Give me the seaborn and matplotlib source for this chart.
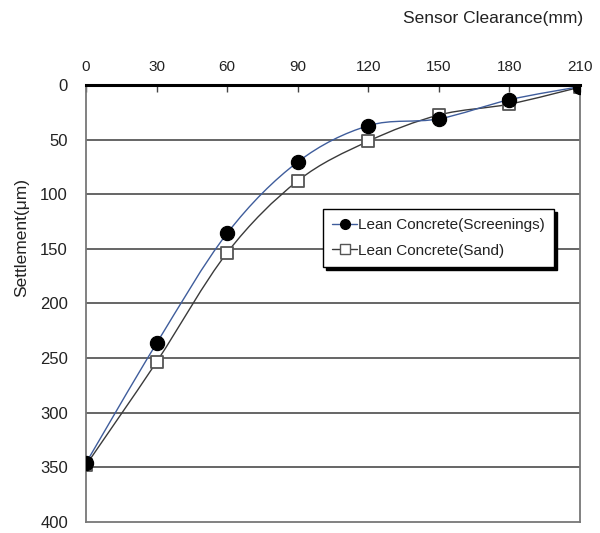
import numpy as np
import pandas as pd
import matplotlib
matplotlib.use("Agg")
import matplotlib.pyplot as plt
import seaborn as sns
from matplotlib.path import Path
from matplotlib.patches import PathPatch
from matplotlib.lines import Line2D

# data
clearance = [0, 30, 60, 90, 120, 150, 180, 210]
screenings = [346, 236.5, 135.8, 70.5, 37.3, 31, 13.5, 1.5]
sand = [348, 253.5, 153.5, 87.8, 51.5, 27.5, 17.5, 2]
labels = ["Lean Concrete(Screenings)", "Lean Concrete(Sand)"]
x_ticks = [0, 30, 60, 90, 120, 150, 180, 210]
y_ticks = [0, 50, 100, 150, 200, 250, 300, 350, 400]

sns.set_style("white")
plt.rcParams["font.family"] = ["Liberation Sans", "DejaVu Sans"]
plt.rcParams["text.color"] = "#222222"
plt.rcParams["xtick.color"] = "#222222"
plt.rcParams["ytick.color"] = "#222222"


def smooth_path(xs, ys):
    # Excel-style smoothed line: cubic bezier through every point
    pts = np.column_stack([xs, ys]).astype(float)
    p = np.vstack([pts[0], pts, pts[-1]])
    verts = [tuple(pts[0])]
    codes = [Path.MOVETO]
    for i in range(1, len(p) - 2):
        c1 = p[i] + (p[i + 1] - p[i - 1]) / 6
        c2 = p[i + 1] - (p[i + 2] - p[i]) / 6
        verts += [tuple(c1), tuple(c2), tuple(p[i + 1])]
        codes += [Path.CURVE4] * 3
    return Path(verts, codes)


df = pd.DataFrame({"clearance": clearance, "screenings": screenings, "sand": sand})

fig = plt.figure(figsize=(6, 5.33), dpi=100)
ax = fig.add_axes([0.1433, 0.0206, 0.8234, 0.82])

blue = "#3f5d9c"
dark = "#3a3a3a"

ax.add_patch(PathPatch(smooth_path(df["clearance"], df["sand"]),
                       fill=False, edgecolor=dark, lw=1.0, zorder=3))
ax.add_patch(PathPatch(smooth_path(df["clearance"], df["screenings"]),
                       fill=False, edgecolor=blue, lw=1.0, zorder=3))

sns.scatterplot(data=df, x="clearance", y="sand", marker="s", s=80,
                facecolor="white", edgecolor="#555555", linewidth=1.3,
                zorder=4, ax=ax)
sns.scatterplot(data=df, x="clearance", y="screenings", marker="o", s=105,
                color="black", edgecolor="black", zorder=5, ax=ax)

ax.set_xlim(0, 210)
ax.set_ylim(400, 0)
ax.set_xticks(x_ticks)
ax.set_yticks(y_ticks)
ax.set_xlabel("")
ax.set_ylabel("")

ax.xaxis.tick_top()
ax.tick_params(axis="x", direction="in", length=5, width=1, color="#444444",
               pad=8, labelsize=11)
ax.tick_params(axis="y", length=0, pad=13, labelsize=12)

for y in y_ticks[1:-1]:
    ax.axhline(y, color="#3c3c3c", lw=1.1, zorder=1)

for side in ["left", "right", "bottom"]:
    ax.spines[side].set_visible(True)
    ax.spines[side].set_color("#777777")
    ax.spines[side].set_linewidth(1.3)
ax.spines["top"].set_visible(True)
ax.spines["top"].set_color("black")
ax.spines["top"].set_linewidth(2.2)
ax.spines["top"].set_zorder(6)

handles = [
    Line2D([0], [0], color=blue, lw=1.0, marker="o", markersize=7,
           markerfacecolor="black", markeredgecolor="black"),
    Line2D([0], [0], color=dark, lw=1.0, marker="s", markersize=6.5,
           markerfacecolor="white", markeredgecolor="#555555"),
]
leg = ax.legend(handles, labels, loc="upper left", bbox_to_anchor=(0.48, 0.716),
                fontsize=11, frameon=True, fancybox=False,
                shadow={"color": "black", "alpha": 1.0},
                edgecolor="black", handlelength=1.6, handletextpad=0.1,
                borderpad=0.6, labelspacing=0.75, framealpha=1,
                borderaxespad=0)
leg.get_frame().set_linewidth(1.0)

fig.text(0.972, 1 - 18 / 533, "Sensor Clearance(mm)", ha="right", va="center",
         fontsize=12.5)
fig.text(22 / 600, 1 - 238 / 533, "Settlement(μm)", rotation=90,
         ha="center", va="center", fontsize=12.5)

fig.savefig("out.png", dpi=100)
